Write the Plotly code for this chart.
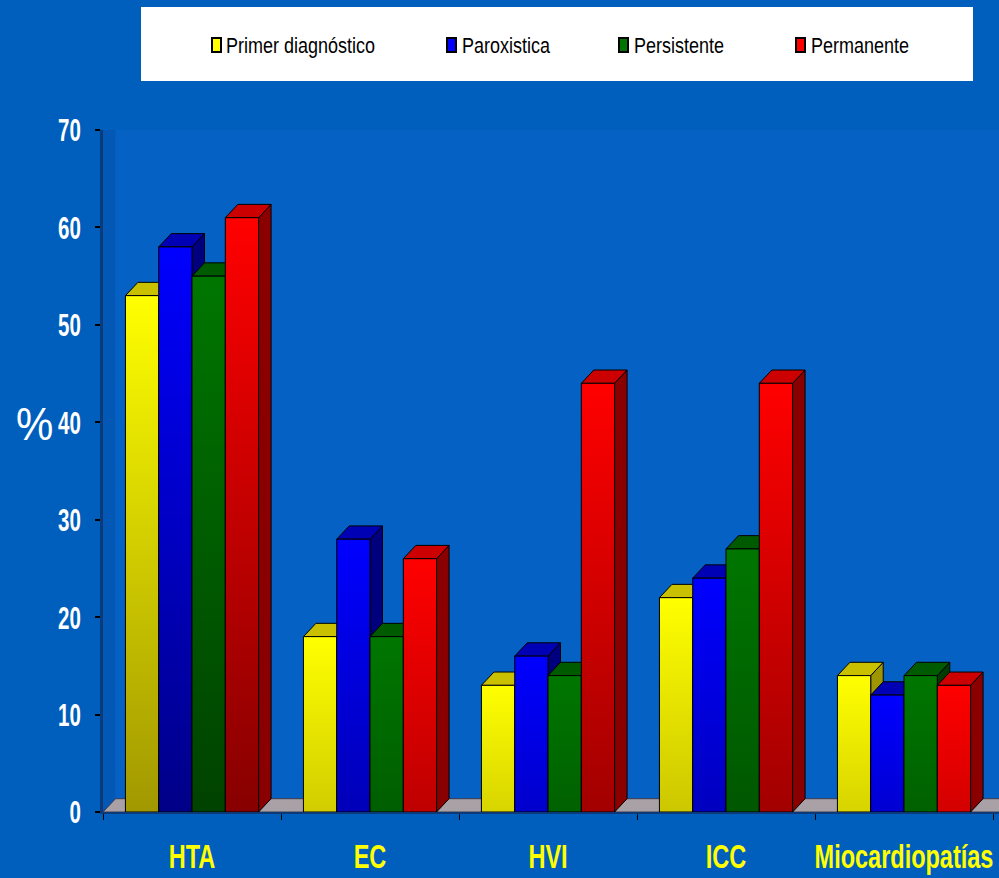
import plotly.graph_objects as go

# ---- data -------------------------------------------------------------
categories = ["HTA", "EC", "HVI", "ICC", "Miocardiopatías"]
series_names = ["Primer diagnóstico", "Paroxistica", "Persistente", "Permanente"]
primer_diagnostico = [53, 18, 13, 22, 14]
paroxistica = [58, 28, 16, 24, 12]
persistente = [55, 18, 14, 27, 14]
permanente = [61, 26, 44, 44, 13]
y_ticks = [0, 10, 20, 30, 40, 50, 60, 70]

series_values = [primer_diagnostico, paroxistica, persistente, permanente]

# ---- styling ----------------------------------------------------------
W, H = 999, 878
M_L, M_R, M_T, M_B = 103, 0, 130, 66
PLOT_W = W - M_L - M_R
PLOT_H = H - M_T - M_B
PX_PER_CAT = 178.0
X_MAX = PLOT_W / PX_PER_CAT
Y_MAX = 70

PAGE_BG = "#005EBD"
WALL_BG = "#0562C4"
SANS = "'Liberation Sans', Arial, sans-serif"

# faces: bright front colour, dark end of the front gradient, top, side
palette = [
    dict(front=(255, 255, 0), shade=(150, 140, 0), top="#C9C000", side="#9E9600"),
    dict(front=(0, 0, 255), shade=(0, 0, 130), top="#0000B4", side="#00007E"),
    dict(front=(0, 118, 0), shade=(0, 62, 0), top="#005A00", side="#003C00"),
    dict(front=(255, 0, 0), shade=(135, 0, 0), top="#CC0000", side="#8A0000"),
]

bar_w = 0.187          # bar width in category units
depth_x = 12.5 / PX_PER_CAT
depth_y = 13.3 / (PLOT_H / Y_MAX)


def rgb(c):
    return "rgb(%d,%d,%d)" % tuple(int(round(v)) for v in c)


def mix(a, b, t):
    return tuple(a[k] + (b[k] - a[k]) * t for k in range(3))


fig = go.Figure()

# side wall and floor of the 3D box
fig.add_trace(go.Scatter(
    x=[0, depth_x, depth_x, 0, 0], y=[0, depth_y, Y_MAX + depth_y, Y_MAX, 0],
    fill="toself", fillcolor="rgba(0,35,100,0.15)", line=dict(width=0),
    mode="lines", hoverinfo="skip", showlegend=False))
fig.add_trace(go.Scatter(
    x=[0, X_MAX + 1, X_MAX + 1 + depth_x, depth_x, 0],
    y=[0, 0, depth_y, depth_y, 0],
    fill="toself", fillcolor="#A9A1A5", line=dict(color="#3a3a50", width=1),
    mode="lines", hoverinfo="skip", showlegend=False))

max_val = max(max(s) for s in series_values)

for i, cat in enumerate(categories):
    for j, (name, vals) in enumerate(zip(series_names, series_values)):
        h = vals[i]
        pal = palette[j]
        x0 = i + 0.5 + (j - 2) * bar_w
        x1 = x0 + bar_w
        edge = dict(color="black", width=1)
        # right-hand side face
        fig.add_trace(go.Scatter(
            x=[x1, x1 + depth_x, x1 + depth_x, x1, x1],
            y=[0, depth_y, h + depth_y, h, 0],
            fill="toself", fillcolor=pal["side"], line=edge, mode="lines",
            hoverinfo="skip", showlegend=False))
        # top face
        fig.add_trace(go.Scatter(
            x=[x0, x1, x1 + depth_x, x0 + depth_x, x0],
            y=[h, h, h + depth_y, h + depth_y, h],
            fill="toself", fillcolor=pal["top"], line=edge, mode="lines",
            hoverinfo="skip", showlegend=False))
        # front face, darker towards the floor
        t = 0.2 + 0.8 * h / max_val
        bottom = mix(pal["front"], pal["shade"], t)
        fig.add_trace(go.Scatter(
            x=[x0, x1, x1, x0, x0], y=[0, 0, h, h, 0],
            fill="toself",
            fillgradient=dict(type="vertical", start=0, stop=h,
                              colorscale=[[0, rgb(bottom)], [1, rgb(pal["front"])]]),
            line=edge, mode="lines", name=name,
            hovertemplate=f"{cat} – {name}: {h}%<extra></extra>",
            showlegend=False))


def px_x(px):
    return (px - M_L) / PLOT_W


def px_y(py):
    return (H - M_B - py) / PLOT_H


shapes = [dict(type="rect", xref="paper", yref="paper",
               x0=px_x(141), x1=px_x(973), y0=px_y(81), y1=px_y(7),
               fillcolor="white", line=dict(width=0), layer="above")]
annotations = []
legend_marker_x = [212, 447, 619, 796]
legend_text_x = [226, 462, 634, 811]
for mx, tx, name, pal in zip(legend_marker_x, legend_text_x, series_names, palette):
    shapes.append(dict(type="rect", xref="paper", yref="paper",
                       x0=px_x(mx), x1=px_x(mx + 9), y0=px_y(52), y1=px_y(38),
                       fillcolor=rgb(pal["front"]), line=dict(color="black", width=2),
                       layer="above"))
    annotations.append(dict(text=name, xref="paper", yref="paper",
                            x=px_x(tx - 2), y=px_y(46), xanchor="left", yanchor="middle",
                            showarrow=False, font=dict(family=SANS, size=18, color="black")))

annotations.append(dict(text="%", xref="paper", yref="paper",
                        x=px_x(34), y=px_y(425), xanchor="center", yanchor="middle",
                        showarrow=False, font=dict(family=SANS, size=42, color="white")))

fig.update_layout(
    width=W, height=H, autosize=False,
    margin=dict(l=M_L, r=M_R, t=M_T, b=M_B, pad=0),
    paper_bgcolor=PAGE_BG, plot_bgcolor=WALL_BG,
    showlegend=False,
    shapes=shapes, annotations=annotations,
    xaxis=dict(
        range=[0, X_MAX], tickvals=[i + 0.5 for i in range(len(categories))],
        ticktext=categories, ticks="", showgrid=False, zeroline=False,
        showline=True, linecolor="#0B3A7A", linewidth=2, automargin=False,
        tickfont=dict(family=SANS, size=23.5, color="#FFFF00", weight="bold"),
        ticklabelstandoff=23, ticklabeloverflow="allow",
        minor=dict(tickvals=list(range(len(categories) + 1)), ticks="outside",
                   ticklen=6, tickcolor="black", tickwidth=1),
        fixedrange=True),
    yaxis=dict(
        range=[0, Y_MAX], tickvals=y_ticks, ticks="outside", ticklen=5,
        tickcolor="black", tickwidth=2, showgrid=False, zeroline=False,
        showline=True, linecolor="#0B3A7A", linewidth=3, automargin=False,
        tickfont=dict(family=SANS, size=20.5, color="white", weight="bold"),
        ticklabelstandoff=10, fixedrange=True),
)

# tall, condensed lettering: stretch the label glyphs vertically about their centres
STRETCH_JS = """
var gd = document.getElementById('{plot_id}');
function stretchText() {
  var rules = [['.ytick text', 1.56], ['.xtick text', 1.39], ['.annotation-text', 1.24]];
  rules.forEach(function (r) {
    gd.querySelectorAll(r[0]).forEach(function (el) {
      var t = el.getAttribute('transform') || '';
      if (t.indexOf('scale(1,') >= 0) return;
      var sy = r[1];
      if (el.textContent === '%') sy = 1.1;
      var b = el.getBBox();
      var cx = b.x + b.width / 2, cy = b.y + b.height / 2;
      el.setAttribute('transform', t + ' translate(' + cx + ',' + cy + ') scale(1,' + sy +
                      ') translate(' + (-cx) + ',' + (-cy) + ')');
    });
  });
}
stretchText();
gd.on('plotly_afterplot', stretchText);
"""

fig.write_html("out.html", post_script=STRETCH_JS)
